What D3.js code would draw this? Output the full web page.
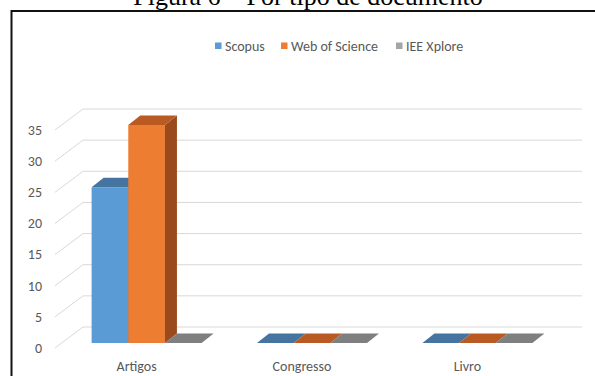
<!DOCTYPE html>
<html>
<head>
<meta charset="utf-8">
<script src="https://cdn.jsdelivr.net/npm/d3@7/dist/d3.min.js"></script>
<style>
  html, body { margin: 0; padding: 0; background: #fff; }
  svg { display: block; }
  .lbl { font-family: Carlito, "Liberation Sans Narrow", "Liberation Sans", sans-serif; fill: #595959; }
</style>
</head>
<body>
<svg id="chart" width="595" height="376"></svg>
<script>
// Documents per type, by database
const categories = ["Artigos", "Congresso", "Livro"];
const seriesNames = ["Scopus", "Web of Science", "IEE Xplore"];
const scopus = [25, 0, 0];
const webOfScience = [35, 0, 0];
const ieeXplore = [0, 0, 0];
const yTicks = [0, 5, 10, 15, 20, 25, 30, 35];

const seriesValues = [scopus, webOfScience, ieeXplore];
const colors = {
  front: ["#5B9BD5", "#ED7D31", "#A5A5A5"],
  top:   ["#44749F", "#B95A22", "#7F7F7F"],
  side:  ["#3B6690", "#9A4A1C", "#6E6E6E"],
  legend:["#5B9BD5", "#ED7D31", "#A5A5A5"]
};

const svg = d3.select("#chart");
const W = 595, H = 376;

// Title (serif, partially above the top of the page)
svg.append("text")
  .attr("x", 308).attr("y", 5)
  .attr("text-anchor", "middle")
  .style("font-family", "'Liberation Serif', 'Times New Roman', serif")
  .style("font-size", "26px")
  .attr("fill", "#000")
  .text("Figura 6 – Por tipo de documento");

// Frame around the chart area
svg.append("path")
  .attr("d", `M11.5,${H + 5} L11.5,11 L${W + 5},11`)
  .attr("fill", "none").attr("stroke", "#111").attr("stroke-width", 2);

// Scales: front plane of the bars
const y = d3.scaleLinear().domain([0, 35]).range([343, 125]);
const x0 = d3.scaleBand().domain(categories).range([42, 582])
  .paddingInner(0.335).paddingOuter(0.3);
const x1 = d3.scaleBand().domain(seriesNames).range([0, x0.bandwidth()]);

// Depth offsets for the pseudo-3D look
const wallDX = 28, wallDY = -21;   // side wall depth
const barDX = 12, barDY = -9.5;    // column depth
const frontOff = 5;                 // front edge of the side wall relative to bar front
const wallX = 55;

// Gridlines: diagonal on the side wall, then horizontal along the back wall
const grid = svg.append("g");
yTicks.forEach(v => {
  const yf = y(v) + frontOff;
  const yb = yf + wallDY;
  grid.append("path")
    .attr("d", `M${wallX},${yf} L${wallX + wallDX},${yb} L${x0.range()[1]},${yb}`)
    .attr("fill", "none").attr("stroke", "#D9D9D9").attr("stroke-width", 1);
});

// Y tick labels
svg.append("g").selectAll("text").data(yTicks).join("text")
  .attr("class", "lbl")
  .attr("x", 42).attr("y", d => y(d) + frontOff)
  .attr("dy", "0.35em")
  .attr("text-anchor", "end")
  .style("font-size", "14px")
  .text(d => d);

// Columns
const bars = svg.append("g");
categories.forEach((cat, ci) => {
  seriesNames.forEach((s, si) => {
    const v = seriesValues[si][ci];
    const xl = x0(cat) + x1(s);
    const xr = xl + x1.bandwidth();
    const yt = y(v), yb = y(0);
    if (v > 0) {
      bars.append("rect")
        .attr("x", xl).attr("y", yt)
        .attr("width", xr - xl).attr("height", yb - yt)
        .attr("fill", colors.front[si]);
      bars.append("path")
        .attr("d", `M${xr},${yt} L${xr + barDX},${yt + barDY} L${xr + barDX},${yb + barDY} L${xr},${yb} Z`)
        .attr("fill", colors.side[si]);
    }
    bars.append("path")
      .attr("d", `M${xl},${yt} L${xl + barDX},${yt + barDY} L${xr + barDX},${yt + barDY} L${xr},${yt} Z`)
      .attr("fill", colors.top[si]);
  });
});

// Category labels
svg.append("g").selectAll("text").data(categories).join("text")
  .attr("class", "lbl")
  .attr("x", d => x0(d) + x0.bandwidth() / 2 - 10)
  .attr("y", 371)
  .attr("text-anchor", "middle")
  .style("font-size", "14px")
  .text(d => d);

// Legend
const legendX = [215, 281, 396];
const legend = svg.append("g");
seriesNames.forEach((s, i) => {
  legend.append("rect")
    .attr("x", legendX[i]).attr("y", 42.5)
    .attr("width", 6.5).attr("height", 6.5)
    .attr("fill", colors.legend[i]);
  legend.append("text")
    .attr("class", "lbl")
    .attr("x", legendX[i] + 10).attr("y", 50.5)
    .style("font-size", "14px")
    .text(s);
});
</script>
</body>
</html>
